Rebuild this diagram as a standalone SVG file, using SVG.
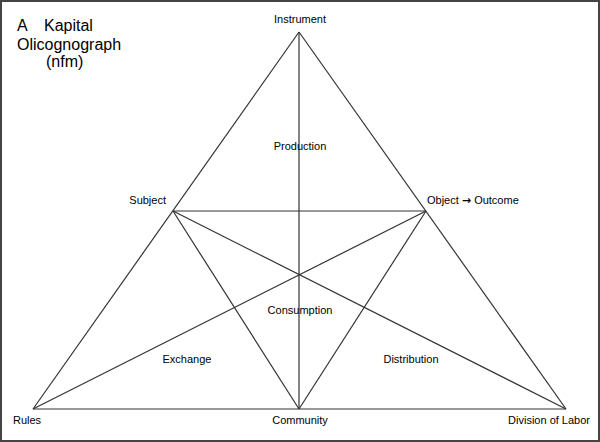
<svg xmlns="http://www.w3.org/2000/svg" width="600" height="442" viewBox="0 0 600 442">
<style>
.l{stroke:#333;stroke-width:1.2;fill:none}
.t{font-family:"Liberation Sans",Arial,sans-serif;font-size:11px;fill:#000}
.h{font-family:"Liberation Sans",Arial,sans-serif;font-size:16px;fill:#000}
.a{font-family:"DejaVu Sans",sans-serif;font-weight:bold;font-size:11px}
</style>
<rect x="1" y="1" width="598" height="440" fill="#fff" stroke="#444" stroke-width="2"/>
<g id="title">
<text class="h" x="17" y="31">A</text>
<text class="h" x="44" y="31">Kapital</text>
<text class="h" x="17" y="50">Olicognograph</text>
<text class="h" x="46" y="67">(nfm)</text>
</g>
<g id="connectors">
<line class="l" x1="299" y1="32" x2="33" y2="409"/>
<line class="l" x1="299" y1="32" x2="566" y2="409"/>
<line class="l" x1="33" y1="409" x2="566" y2="409"/>
<line class="l" x1="299" y1="32" x2="299" y2="409"/>
<line class="l" x1="173" y1="211" x2="426" y2="211"/>
<line class="l" x1="173" y1="211" x2="299" y2="409"/>
<line class="l" x1="426" y1="211" x2="299" y2="409"/>
<line class="l" x1="33" y1="409" x2="426" y2="211"/>
<line class="l" x1="173" y1="211" x2="566" y2="409"/>
</g>
<g id="instrument"><text class="t" x="300" y="23" text-anchor="middle">Instrument</text></g>
<g id="subject"><text class="t" x="166" y="204" text-anchor="end">Subject</text></g>
<g id="object"><text class="t" x="427" y="204">Object <tspan class="a">→</tspan> Outcome</text></g>
<g id="rules"><text class="t" x="13" y="424">Rules</text></g>
<g id="community"><text class="t" x="300" y="424" text-anchor="middle">Community</text></g>
<g id="division"><text class="t" x="590" y="424" text-anchor="end">Division of Labor</text></g>
<g id="production"><text class="t" x="300" y="150" text-anchor="middle">Production</text></g>
<g id="consumption"><text class="t" x="300" y="314" text-anchor="middle">Consumption</text></g>
<g id="exchange"><text class="t" x="187" y="363" text-anchor="middle">Exchange</text></g>
<g id="distribution"><text class="t" x="411" y="363" text-anchor="middle">Distribution</text></g>
</svg>
